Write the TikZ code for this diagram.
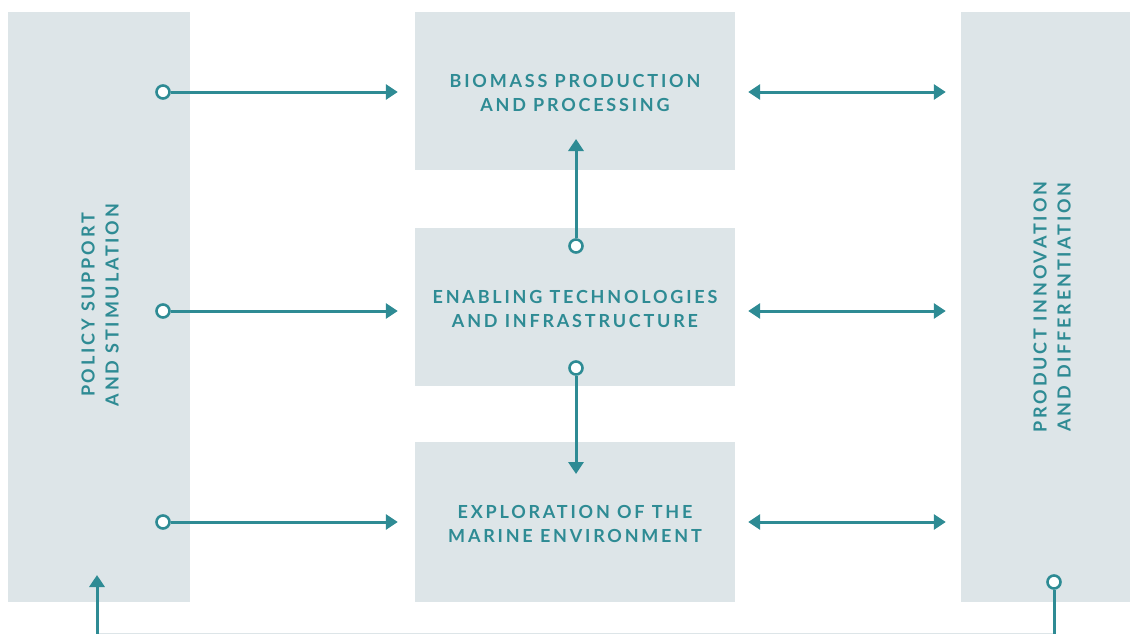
\documentclass[tikz,border=0pt]{standalone}
\usepackage{fontspec}
\setmainfont{Lato}[LetterSpace=15.5]
\usetikzlibrary{arrows.meta,calc}
\definecolor{panel}{HTML}{DDE5E8}
\definecolor{teal}{HTML}{2E8B94}
\definecolor{faint}{HTML}{DDE5E8}
\tikzset{
  panelbox/.style={fill=panel, draw=none, inner sep=0pt},
  lbl/.style={text=teal, font=\fontsize{18}{24}\selectfont\bfseries, align=center},
  knob/.style={circle, draw=teal, line width=2.6pt, fill=white, minimum size=13pt, inner sep=0pt},
  arr/.style={draw=teal, line width=3pt, -{Triangle[length=12pt,width=15pt]}},
  darr/.style={draw=teal, line width=3pt, {Triangle[length=12pt,width=15pt]}-{Triangle[length=12pt,width=15pt]}},
}
\begin{document}
\begin{tikzpicture}[x=1pt,y=-1pt]
\useasboundingbox (0,0) rectangle (1130,634);
% panels
\node[panelbox, minimum width=182pt, minimum height=590pt] (L) at (99,307) {};
\node[panelbox, minimum width=169pt, minimum height=590pt] (R) at (1045.5,307) {};
\node[panelbox, minimum width=320pt, minimum height=158pt] (b1) at (575,91) {};
\node[panelbox, minimum width=320pt, minimum height=158pt] (b2) at (575,307) {};
\node[panelbox, minimum width=320pt, minimum height=160pt] (b3) at (575,522) {};
% labels
\node[lbl] (t1) at (575,93) {BIOMASS PRODUCTION\\AND PROCESSING};
\node[lbl] (t2) at (575,309) {ENABLING TECHNOLOGIES\\AND INFRASTRUCTURE};
\node[lbl] (t3) at (575,524) {EXPLORATION OF THE\\MARINE ENVIRONMENT};
\node[lbl, rotate=90] (tl) at (100,305) {POLICY SUPPORT\\AND STIMULATION};
\node[lbl, rotate=90] (tr) at (1052,307) {PRODUCT INNOVATION\\AND DIFFERENTIATION};
% bottom feedback line
\coordinate (bl) at (97,633.5);
\coordinate (br) at (1054,633.5);
\draw[faint, line width=1pt] (bl) -- (br);
% knobs
\node[knob] (k1) at (163,92) {};
\node[knob] (k2) at (163,311) {};
\node[knob] (k3) at (163,522) {};
\node[knob] (v1) at (576,246) {};
\node[knob] (v2) at (576,368) {};
\node[knob] (kb) at (1054,582) {};
\coordinate (ab) at (97,575);
% arrows from policy
\draw[arr] (k1) -- ([xshift=-17pt]b1.west |- k1);
\draw[arr] (k2) -- ([xshift=-17pt]b2.west |- k2);
\draw[arr] (k3) -- ([xshift=-17pt]b3.west |- k3);
% double arrows to product
\draw[darr] ([xshift=13pt]b1.east |- k1) -- ([xshift=-15pt]R.west |- k1);
\draw[darr] ([xshift=13pt]b2.east |- k2) -- ([xshift=-15pt]R.west |- k2);
\draw[darr] ([xshift=13pt]b3.east |- k3) -- ([xshift=-15pt]R.west |- k3);
% vertical arrows
\draw[arr] (v1) -- (v1 |- 0,139);
\draw[arr] (v2) -- (v2 |- 0,474);
% bottom connectors
\draw[draw=teal, line width=3pt] (kb) -- (kb |- br);
\draw[arr] (97,634) -- (ab);
\end{tikzpicture}
\end{document}
